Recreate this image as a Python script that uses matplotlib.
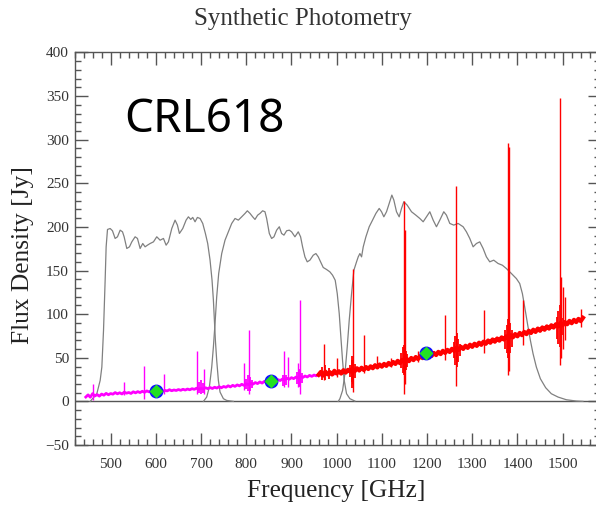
import numpy as np
import matplotlib
matplotlib.use("Agg")
import matplotlib.pyplot as plt
from matplotlib.ticker import MultipleLocator

plt.rcParams['font.family'] = ['Liberation Serif', 'DejaVu Serif']

# filter transmission curves (scaled)
band1_f = [454.7, 469.4, 476.8, 480.5, 484.2, 487.8, 490.0, 493.0, 498.9, 504.0, 509.9, 515.1,
           521.0, 526.2, 529.8, 535.7, 541.6, 546.8, 554.1, 559.3, 565.2, 571.0, 576.2, 581.4,
           587.3, 594.7, 602.0, 609.4, 616.8, 622.7, 627.8, 635.2, 642.5, 647.7, 652.1, 659.5,
           666.9, 672.0, 677.2, 681.6, 686.7, 691.9, 697.8, 703.7, 709.6, 714.7, 719.9, 724.3,
           727.3, 729.5, 731.7, 734.6, 738.3, 742.0, 749.4, 756.7, 771.5]
band1_v = [0.0, 8.8, 24.1, 39.4, 81.5, 138.9, 177.2, 197.1, 198.2, 195.6, 186.8, 188.7,
           196.3, 194.4, 188.7, 175.3, 177.2, 182.9, 188.7, 186.8, 175.3, 181.0, 177.2, 179.1,
           181.0, 182.9, 188.7, 184.8, 186.8, 179.1, 182.9, 198.2, 207.8, 202.1, 192.5, 198.2,
           207.8, 211.6, 208.6, 210.9, 205.9, 210.9, 209.7, 204.0, 192.5, 181.0, 161.9, 138.9,
           116.0, 93.0, 70.0, 47.1, 24.1, 10.7, 3.1, 1.1, 0.0]

band2_f = [705.2, 712.5, 718.4, 723.6, 727.3, 730.9, 734.6, 739.0, 745.7, 753.0, 760.4, 767.8,
           775.2, 782.5, 789.9, 797.3, 802.4, 808.3, 814.2, 819.3, 825.2, 830.4, 836.2, 841.4,
           845.1, 851.0, 856.1, 861.3, 867.2, 873.1, 878.2, 883.4, 889.3, 895.2, 900.3, 907.7,
           915.0, 920.2, 924.6, 929.8, 934.9, 940.8, 948.2, 954.1, 959.3, 964.4, 970.3, 977.7,
           985.0, 990.9, 996.8, 1001.3, 1005.7, 1009.3, 1013.0, 1016.7, 1021.9, 1029.2, 1040.3]
band2_v = [0.0, 5.0, 16.5, 39.4, 62.4, 89.2, 119.8, 146.6, 169.5, 184.8, 194.4, 204.0,
           209.7, 207.8, 211.6, 215.5, 218.5, 215.5, 211.6, 208.6, 213.5, 215.5, 218.5, 217.4,
           209.7, 192.5, 186.8, 188.7, 196.3, 200.2, 192.5, 190.6, 195.6, 196.3, 194.4, 188.7,
           194.4, 188.7, 177.2, 165.7, 160.0, 161.9, 167.6, 169.5, 165.7, 160.0, 153.5, 151.2,
           148.5, 144.7, 138.9, 123.6, 100.6, 73.9, 47.1, 24.1, 8.8, 3.1, 0.4]

band3_f = [1003.5, 1007.2, 1013.1, 1018.3, 1023.4, 1027.8, 1033.0, 1038.1, 1044.0, 1047.7, 1051.4,
           1055.1, 1058.8, 1064.7, 1072.0, 1079.4, 1086.8, 1094.1, 1099.3, 1104.4, 1110.3, 1116.2,
           1122.1, 1126.5, 1132.4, 1138.3, 1143.5, 1148.6, 1156.0, 1165.6, 1175.2, 1184.0, 1191.4,
           1198.7, 1206.1, 1213.5, 1220.8, 1228.2, 1237.0, 1242.9, 1250.3, 1259.1, 1268.7, 1279.8,
           1287.1, 1294.5, 1301.9, 1309.2, 1316.6, 1324.0, 1331.3, 1338.7, 1347.5, 1357.1, 1366.7,
           1375.5, 1386.6, 1397.6, 1405.0, 1410.9, 1416.0, 1419.7, 1423.4, 1428.6, 1434.5, 1441.8,
           1450.7, 1462.4, 1474.9, 1489.7, 1508.1, 1530.2, 1544.9]
band3_v = [0.0, 3.1, 12.6, 31.8, 62.4, 93.0, 123.6, 150.4, 160.0, 165.7, 169.5,
           165.7, 177.2, 188.7, 200.2, 207.8, 215.5, 221.2, 217.4, 211.6, 217.4, 226.9,
           236.5, 230.8, 217.4, 211.6, 221.2, 228.9, 225.0, 217.4, 213.5, 209.7, 205.9,
           211.6, 217.4, 207.8, 200.2, 207.8, 217.4, 213.5, 204.0, 202.1, 204.0, 200.2,
           194.4, 186.8, 177.2, 181.0, 182.9, 175.3, 165.7, 160.0, 161.9, 158.1, 156.1,
           152.3, 146.6, 140.8, 135.1, 123.6, 108.3, 96.8, 85.3, 70.0, 54.7, 39.4,
           26.0, 15.7, 8.8, 5.0, 1.9, 0.4, 0.0]

# spectrum continuum, sampled every 5 GHz
mag_f = np.arange(445, 1001, 5)
mag_v = [5.0, 7.5, 4.8, 8.9, 6.2, 7.8, 6.0, 8.4, 7.1, 9.2, 7.6, 9.0,
         8.3, 10.1, 8.7, 9.9, 8.5, 10.6, 9.4, 10.2, 9.1, 11.0,
         9.8, 11.2, 10.1, 11.6, 10.4, 12.0, 10.9, 11.5, 11.1, 12.3,
         11.4, 12.9, 11.8, 12.6, 12.0, 13.4, 12.2, 13.1, 12.5, 13.6,
         12.7, 13.9, 13.0, 14.2, 13.3, 14.6, 13.8, 15.1, 13.9, 14.9,
         14.3, 15.6, 14.6, 15.9, 14.8, 16.2, 15.3, 16.8, 15.6, 17.1,
         16.2, 17.9, 16.6, 18.4, 17.2, 18.9, 17.8, 19.6, 18.4, 20.1,
         19.2, 21.0, 19.8, 21.6, 20.4, 22.3, 21.0, 22.9, 21.8, 23.4,
         22.5, 24.1, 23.2, 25.0, 23.9, 25.6, 24.8, 26.5, 25.4, 27.2,
         26.1, 27.9, 26.8, 28.6, 27.4, 29.1, 28.0, 29.8, 28.7, 30.2,
         29.3, 31.0, 29.9, 31.6, 30.5, 32.2, 31.0, 32.8, 31.4, 33.0]

red_f = np.arange(960, 1546, 5)
red_v = [30.5, 33.8, 29.6, 34.2, 31.0, 33.5, 30.8, 35.1, 32.0, 34.6,
         31.9, 35.8, 33.0, 36.2, 34.1, 37.5, 34.6, 38.0, 35.4, 38.6,
         36.0, 39.4, 37.1, 40.2, 38.0, 41.5, 38.9, 42.3, 39.8, 43.0,
         40.7, 44.1, 41.8, 45.2, 42.9, 46.5, 43.8, 47.6, 45.0, 48.7,
         46.1, 49.8, 47.3, 50.9, 48.5, 52.0, 49.6, 53.4, 50.8, 54.2,
         52.0, 55.6, 53.1, 56.8, 54.2, 58.0, 55.5, 59.1, 56.6, 60.3,
         57.8, 61.4, 59.0, 62.6, 60.1, 63.8, 61.3, 65.0, 62.5, 66.1,
         63.6, 67.3, 64.8, 68.5, 66.0, 69.8, 67.2, 71.0, 68.4, 72.1,
         69.6, 73.4, 70.9, 74.7, 72.1, 76.0, 73.4, 77.2, 74.6, 78.5,
         75.9, 79.7, 77.1, 81.0, 78.4, 82.2, 79.6, 83.5, 80.9, 84.8,
         82.1, 86.0, 83.4, 87.3, 84.6, 88.5, 85.9, 89.8, 87.2, 91.0,
         88.4, 92.3, 89.6, 93.5, 90.9, 94.6, 92.0, 95.8]

# emission lines (freq, bottom, top)
mag_line_f = [461.0, 530.6, 574.8, 619.0, 690.4, 707.4, 795.7, 806.0, 884.2, 891.6, 913.6, 918.8]
mag_line_lo = [2.0, 7.0, 3.0, 8.0, 9.0, 9.0, 13.0, 8.8, 16.0, 16.0, 17.0, 8.8]
mag_line_hi = [20.3, 22.2, 40.6, 31.8, 57.8, 37.5, 44.0, 81.5, 57.8, 50.9, 44.0, 116.0]

red_line_f = [972.5, 1000.0, 1035.2, 1061.0, 1090.0, 1120.0, 1148.6, 1151.6, 1180.0, 1239.2,
              1265.0, 1325.4, 1379.2, 1381.4, 1412.4, 1493.4, 1496.0, 1500.7, 1504.4, 1541.0]
red_line_lo = [25.0, 28.0, 10.7, 33.0, 38.0, 40.0, 8.8, 20.0, 45.0, 48.0,
               17.2, 55.0, 29.9, 35.0, 65.0, 41.3, 50.0, 60.0, 70.0, 85.0]
red_line_hi = [66.2, 50.0, 152.3, 75.8, 52.0, 50.0, 229.6, 197.0, 58.0, 98.7,
               246.8, 104.5, 296.6, 292.0, 116.0, 347.5, 142.7, 131.3, 119.8, 106.0]

# noise bursts around the strong lines
mag_burst_f = [695, 700, 705, 800, 804, 808, 812, 882, 888, 912, 916, 920, 924]
mag_burst_lo = [10, 8, 10, 14, 12, 12, 15, 18, 19, 20, 17, 18, 21]
mag_burst_hi = [22, 24, 21, 26, 30, 28, 25, 30, 30, 34, 37, 36, 32]

red_burst_f = [968, 975, 982, 1030, 1033, 1035, 1037, 1040, 1143, 1146, 1150, 1153, 1156,
               1259, 1262, 1266, 1269, 1272, 1373, 1376, 1380, 1384, 1387,
               1487, 1490, 1494, 1497, 1500]
red_burst_lo = [25, 24, 26, 28, 22, 15, 20, 27, 38, 32, 30, 36, 40,
                50, 42, 40, 45, 52, 60, 55, 50, 56, 62,
                72, 66, 62, 68, 76]
red_burst_hi = [40, 42, 38, 42, 48, 52, 47, 43, 55, 62, 65, 58, 54,
                68, 75, 78, 72, 66, 82, 88, 95, 90, 82,
                97, 104, 110, 103, 96]

# synthetic photometry points
phot_f = [600, 855, 1197]
phot_v = [12.0, 23.0, 55.5]

fig = plt.figure(figsize=(5.96, 5.08), dpi=100)
ax = fig.add_axes([0.125, 0.124, 0.882, 0.7727])

ax.axhline(0, color='#555555', lw=1.0, zorder=1)
for bf, bv in [(band1_f, band1_v), (band2_f, band2_v), (band3_f, band3_v)]:
    ax.plot(bf, bv, color='#808080', lw=0.9, zorder=2)

ax.plot(mag_f, mag_v, color='#ff00ff', lw=2.0, zorder=3)
ax.vlines(mag_burst_f, mag_burst_lo, mag_burst_hi, color='#ff00ff', lw=1.3, zorder=3)
ax.vlines(mag_line_f, mag_line_lo, mag_line_hi, color='#ff00ff', lw=1.0, zorder=3)

ax.plot(red_f, red_v, color='#ff0000', lw=3.0, zorder=4)
ax.vlines(red_burst_f, red_burst_lo, red_burst_hi, color='#ff0000', lw=1.3, zorder=4)
ax.vlines(red_line_f, red_line_lo, red_line_hi, color='#ff0000', lw=1.0, zorder=4)

ax.plot(phot_f, phot_v, 'o', ms=9, mfc='#1010ff', mec='#1010ff', zorder=5)
ax.plot(phot_f, phot_v, 'D', ms=6.5, mfc='#22e022', mec='#22e022', zorder=6)

ax.set_xlim(420, 1583)
ax.set_ylim(-50, 400)
ax.xaxis.set_major_locator(MultipleLocator(100))
ax.xaxis.set_minor_locator(MultipleLocator(20))
ax.yaxis.set_major_locator(MultipleLocator(50))
ax.yaxis.set_minor_locator(MultipleLocator(10))
ax.tick_params(which='both', direction='in', top=True, right=True,
               color='#555555', width=1.0, labelsize=11, labelcolor='#333333')
ax.tick_params(which='major', length=9)
ax.tick_params(which='minor', length=4.5)
ax.tick_params(axis='x', pad=9)
ax.tick_params(axis='y', pad=4)
for sp in ax.spines.values():
    sp.set_color('#555555')
    sp.set_linewidth(1.0)

fig.text(0.508, 0.962, 'Synthetic Photometry', ha='center', va='center',
         fontsize=18, color='#333333')
fig.text(0.564, 0.034, 'Frequency [GHz]', ha='center', va='center',
         fontsize=18.3, color='#222222')
fig.text(0.039, 0.497, 'Flux Density [Jy]', ha='center', va='center',
         rotation=90, fontsize=18.3, color='#222222')
fig.text(0.209, 0.740, 'CRL618', ha='left', va='baseline',
         fontsize=33, family=['Noto Sans', 'DejaVu Sans'], color='black')

fig.savefig('out.png', dpi=100)
